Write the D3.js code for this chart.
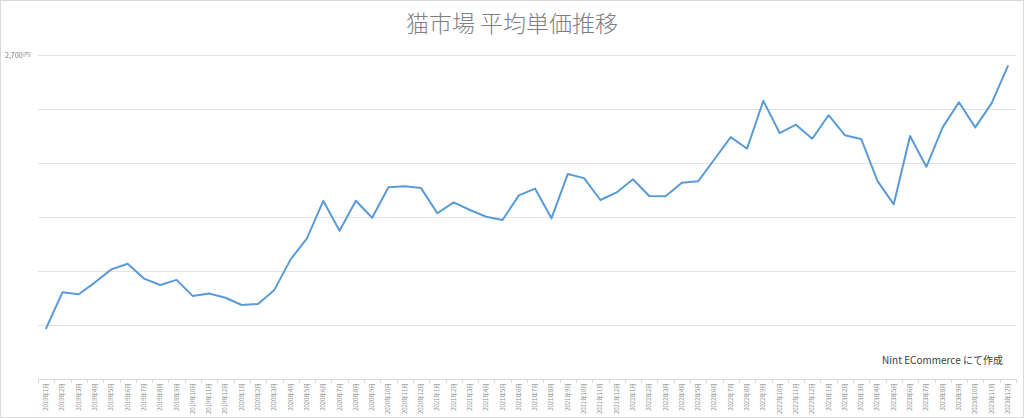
<!DOCTYPE html>
<html><head><meta charset="utf-8">
<script src="https://cdn.jsdelivr.net/npm/d3@7"></script>
<style>html,body{margin:0;padding:0;background:#fff;}svg{display:block;}</style>
</head><body>
<svg id="c" width="1024" height="418"></svg>
<script>
const years = [2019, 2020, 2021, 2022, 2023];
const months = [1,2,3,4,5,6,7,8,9,10,11,12];
const categories = [];
years.forEach(y => months.forEach(m => categories.push(y + "年" + m + "月")));
const values = [
  1688, 1821, 1814, 1858, 1906, 1927, 1872, 1848, 1867, 1807, 1817, 1801,
  1774, 1778, 1830, 1943, 2021, 2160, 2049, 2160, 2097, 2210, 2214, 2207,
  2114, 2154, 2126, 2101, 2089, 2180, 2205, 2095, 2259, 2244, 2163, 2191,
  2240, 2178, 2177, 2227, 2232, 2314, 2396, 2353, 2530, 2411, 2442, 2390,
  2477, 2403, 2389, 2234, 2147, 2400, 2286, 2432, 2525, 2432, 2521, 2659
];
const yTicks = [1500, 1700, 1900, 2100, 2300, 2500, 2700];
const titleText = "猫市場 平均単価推移";
const creditText = "Nint ECommerce にて作成";

const svg = d3.select("#c");
const W = 1024, H = 418;
const mLeft = 38, mRight = 1016, mTop = 55, mBottom = 379;

svg.append("rect").attr("x",0.5).attr("y",0.5).attr("width",W-1).attr("height",H-1)
  .attr("fill","#fff").attr("stroke","#d9d9d9");

const x = d3.scaleBand().domain(categories).range([mLeft, mRight]);
const y = d3.scaleLinear().domain([1500, 2700]).range([mBottom, mTop]);

// gridlines
svg.append("g").selectAll("line").data(yTicks.slice(1)).join("line")
  .attr("x1", mLeft).attr("x2", mRight)
  .attr("y1", d => Math.round(y(d)) + 0.5).attr("y2", d => Math.round(y(d)) + 0.5)
  .attr("stroke", "#e3e3e3").attr("stroke-width", 1);

// x axis
const xAxis = d3.axisBottom(x).tickSize(0).tickPadding(0);
const gx = svg.append("g").attr("transform", `translate(0,${mBottom})`).call(xAxis);
gx.select(".domain").attr("stroke", "#d9d9d9").attr("d", `M${mLeft},0.5H${mRight}`);
gx.selectAll(".tick text")
  .attr("transform", "rotate(-90)")
  .attr("x", -4).attr("y", 0).attr("dy", "0.35em")
  .attr("text-anchor", "end")
  .attr("fill", "#8c8c8c")
  .style("font-family", "'Noto Sans CJK JP', sans-serif")
  .style("font-size", "5.8px");
// tick marks at band boundaries
svg.append("g").selectAll("line").data(d3.range(categories.length + 1)).join("line")
  .attr("x1", i => Math.round(mLeft + i * x.step()) + 0.5)
  .attr("x2", i => Math.round(mLeft + i * x.step()) + 0.5)
  .attr("y1", mBottom).attr("y2", mBottom + 4)
  .attr("stroke", "#d9d9d9");

// y label
const yl = svg.append("text").attr("x", 5).attr("y", 58)
  .attr("fill", "#7f7f7f")
  .style("font-family", "'Noto Sans CJK JP', sans-serif")
  .style("font-size", "7px");
yl.append("tspan").text(d3.format(",")(yTicks[yTicks.length - 1]));
yl.append("tspan").attr("dy", -2).style("font-size", "5px").text("(円)");

// line
const line = d3.line().x((d, i) => x(categories[i]) + x.bandwidth() / 2).y(d => y(d));
svg.append("path").datum(values).attr("d", line)
  .attr("fill", "none").attr("stroke", "#5b9bd5").attr("stroke-width", 2)
  .attr("stroke-linejoin", "round").attr("stroke-linecap", "round");

// title
svg.append("text").attr("x", 512).attr("y", 32).attr("text-anchor", "middle")
  .attr("fill", "#7f7f7f")
  .style("font-family", "'Noto Sans CJK JP', sans-serif")
  .style("font-weight", "300")
  .style("font-size", "23px")
  .text(titleText);

// credit
svg.append("text").attr("x", 1003).attr("y", 364).attr("text-anchor", "end")
  .attr("fill", "#404040")
  .style("font-family", "'Noto Sans CJK JP', sans-serif")
  .style("font-size", "10px")
  .text(creditText);
</script>
</body></html>
